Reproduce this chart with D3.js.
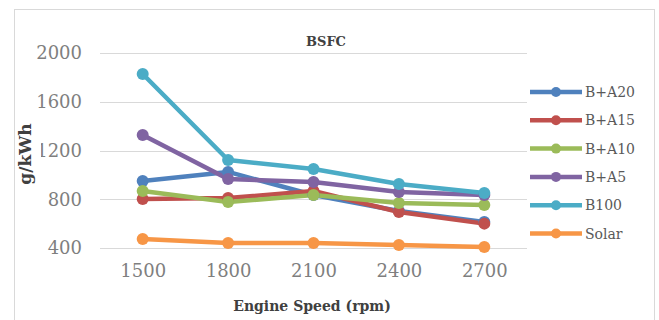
<!DOCTYPE html>
<html>
<head>
<meta charset="utf-8">
<script src="https://cdn.jsdelivr.net/npm/d3@7"></script>
<style>
  body { margin: 0; background: #fff; }
  svg { display: block; font-family: "DejaVu Serif", serif; }
</style>
</head>
<body>
<div id="chart"></div>
<script>
// engine speeds (rpm) and BSFC values
const speeds = ["1500", "1800", "2100", "2400", "2700"];
const seriesNames = ["B+A20", "B+A15", "B+A10", "B+A5", "B100", "Solar"];
const bA20 = [950, 1024, 835, 704, 613];
const bA15 = [802, 810, 868, 695, 600];
const bA10 = [868, 777, 835, 769, 753];
const bA5 = [1327, 966, 941, 859, 835];
const b100 = [1828, 1122, 1048, 925, 851];
const solar = [474, 441, 441, 425, 408];
const yTicks = [400, 800, 1200, 1600, 2000];
const colors = ["#4f81bd", "#c0504d", "#9bbb59", "#8064a2", "#4bacc6", "#f79646"];

const width = 659, height = 320;
const margin = {top: 53, right: 132, bottom: 72, left: 100};

const series = [bA20, bA15, bA10, bA5, b100, solar].map((vals, i) => ({
  name: seriesNames[i],
  color: colors[i],
  values: vals.map((v, j) => ({x: speeds[j], y: v}))
}));

const svg = d3.select("#chart")
  .append("svg")
  .attr("width", width)
  .attr("height", height);

// chart border
svg.append("rect")
  .attr("x", 14.5).attr("y", 9.5)
  .attr("width", 640).attr("height", 330)
  .attr("fill", "#fff")
  .attr("stroke", "#d9d9d9");

let xScale = d3.scalePoint()
  .domain(speeds)
  .range([margin.left, width - margin.right])
  .padding(0.5);

let yScale = d3.scaleLinear()
  .domain([400, 2000])
  .range([height - margin.bottom, margin.top]);

// gridlines
svg.append("g")
  .selectAll("line")
  .data(yTicks)
  .join("line")
    .attr("x1", margin.left)
    .attr("x2", width - margin.right)
    .attr("y1", d => Math.round(yScale(d)) + 0.5)
    .attr("y2", d => Math.round(yScale(d)) + 0.5)
    .attr("stroke", "#d9d9d9")
    .attr("stroke-width", 1.2);

// y axis labels
let yAxis = svg.append("g")
  .attr("transform", `translate(${margin.left - 18}, 0)`)
  .call(d3.axisLeft(yScale).tickValues(yTicks).tickFormat(d3.format("d")).tickSize(0).tickPadding(0));
yAxis.select(".domain").remove();
yAxis.selectAll("text")
  .attr("font-family", "DejaVu Serif, serif")
  .attr("font-size", "18px")
  .attr("fill", "#7f7f7f");

// x axis labels
let xAxis = svg.append("g")
  .attr("transform", `translate(0, ${height - margin.bottom + 16})`)
  .call(d3.axisBottom(xScale).tickSize(0).tickPadding(0));
xAxis.select(".domain").remove();
xAxis.selectAll("text")
  .attr("font-family", "DejaVu Serif, serif")
  .attr("font-size", "18px")
  .attr("fill", "#7f7f7f");

// lines
const line = d3.line()
  .x(d => xScale(d.x))
  .y(d => yScale(d.y));

svg.append("g")
  .selectAll("path")
  .data(series)
  .join("path")
    .attr("d", d => line(d.values))
    .attr("fill", "none")
    .attr("stroke", d => d.color)
    .attr("stroke-width", 4.5)
    .attr("stroke-linejoin", "round");

// markers
svg.append("g")
  .selectAll("g")
  .data(series)
  .join("g")
    .attr("fill", d => d.color)
  .selectAll("circle")
  .data(d => d.values)
  .join("circle")
    .attr("cx", d => xScale(d.x))
    .attr("cy", d => yScale(d.y))
    .attr("r", 6);

// chart title
svg.append("text")
  .attr("x", 326)
  .attr("y", 46)
  .attr("text-anchor", "middle")
  .attr("font-size", "13px")
  .attr("font-weight", "bold")
  .attr("fill", "#404040")
  .text("BSFC");

// y axis title, sits on top of the 1200 label like in the original
let yTitle = svg.append("g")
  .attr("transform", "translate(31, 154) rotate(-90)");
yTitle.append("rect")
  .attr("x", -32).attr("y", -14)
  .attr("width", 64).attr("height", 24)
  .attr("fill", "#fff");
yTitle.append("text")
  .attr("text-anchor", "middle")
  .attr("font-size", "17px")
  .attr("font-weight", "bold")
  .attr("fill", "#404040")
  .text("g/kWh");

// x axis title
svg.append("text")
  .attr("x", 312)
  .attr("y", 311)
  .attr("text-anchor", "middle")
  .attr("font-size", "14px")
  .attr("font-weight", "bold")
  .attr("fill", "#404040")
  .text("Engine Speed (rpm)");

// legend
let legend = svg.append("g")
  .selectAll("g")
  .data(series)
  .join("g")
    .attr("transform", (d, i) => `translate(530, ${92 + i * 28.3})`);
legend.append("line")
  .attr("x1", 0).attr("x2", 52)
  .attr("stroke", d => d.color)
  .attr("stroke-width", 4.5);
legend.append("circle")
  .attr("cx", 26)
  .attr("r", 5)
  .attr("fill", d => d.color);
legend.append("text")
  .attr("x", 55)
  .attr("y", 5)
  .attr("font-size", "14px")
  .attr("fill", "#595959")
  .text(d => d.name);
</script>
</body>
</html>
